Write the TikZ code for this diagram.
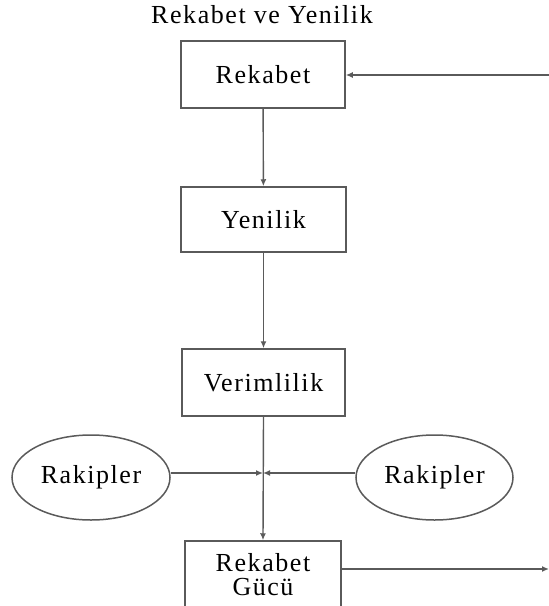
\documentclass[tikz,border=0pt]{standalone}
\usepackage{xcolor}
\usepackage{fontspec}
\setmainfont[LetterSpace=6]{Liberation Serif}
\usepackage{tikz}
\usetikzlibrary{arrows.meta, positioning, shapes.geometric, calc}
\definecolor{Ink}{HTML}{000000}
\definecolor{Line}{HTML}{5A5A5A}

\begin{document}
\begin{tikzpicture}[
  x=1pt, y=-1pt,
  font=\fontsize{26}{24}\selectfont,
  box/.style={draw=Line, line width=1.5pt, align=center, text=Ink, inner sep=0pt},
  oval/.style={ellipse, draw=Line, line width=1.5pt, text=Ink, inner sep=0pt},
  arrow/.style={-{Latex[length=7pt, width=6pt]}, line width=1.4pt, draw=Line}
]
\clip (0,0) rectangle (549,606);

\node[text=Ink] (title) at (262,15) {Rekabet ve Yenilik};

\node[box, minimum width=164pt, minimum height=67pt] (rekabet) at (263,74.5) {Rekabet};
\node[box, minimum width=165pt, minimum height=65pt] (yenilik) at (263.5,219.5) {Yenilik};
\node[box, minimum width=163pt, minimum height=67pt] (verim) at (263.5,382.5) {Verimlilik};
\node[box, minimum width=156pt, minimum height=67pt] (gucu) at (263,574.5) {Rekabet\\Gücü};

\node[oval, minimum width=158pt, minimum height=85pt] (rakipL) at (91,477.5) {Rakipler};
\node[oval, minimum width=157pt, minimum height=85pt] (rakipR) at (434.5,477.5) {Rakipler};

\coordinate (meet) at (263,473);
\coordinate (girdi) at (549,75);
\coordinate (cikti) at (549,569);

\draw[arrow] (girdi) -- (rekabet.east |- girdi);
\draw[arrow] (rekabet) -- (yenilik);
\draw[arrow] (yenilik) -- (verim);
\draw[arrow] (verim.south) -- (gucu.north);
\draw[arrow] (rakipL.east |- meet) -- (meet);
\draw[arrow] (rakipR.west |- meet) -- (meet);
\draw[arrow] (gucu.east |- cikti) -- (cikti);
\end{tikzpicture}
\end{document}
